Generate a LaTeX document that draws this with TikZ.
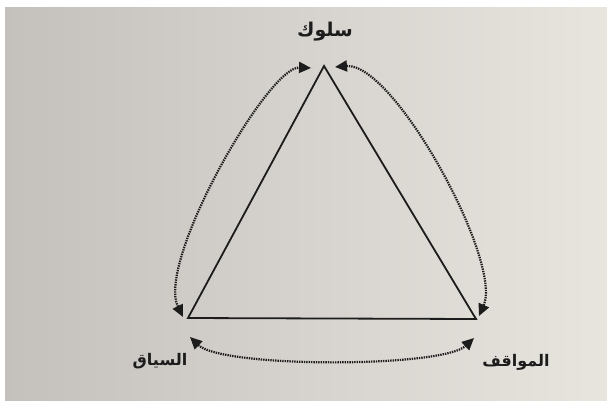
\documentclass[tikz,border=0pt]{standalone}
\usepackage{fontspec}
\usetikzlibrary{arrows.meta}
\newfontfamily\arabicfont[Script=Arabic]{DejaVu Sans}
\TeXXeTstate=1
\definecolor{paperL}{RGB}{196,193,189}
\definecolor{paperR}{RGB}{232,229,223}
\definecolor{ink}{RGB}{28,28,28}
\tikzset{
  tri/.style={draw=ink, line width=1.8pt, line join=miter},
  dotarrow/.style={draw=ink, line width=2.2pt, dash pattern=on 1.4pt off 1pt, {Triangle[length=12pt,width=11pt]}-{Triangle[length=12pt,width=11pt]}},
  lbl/.style={text=ink, font=\arabicfont\bfseries\fontsize{16}{19}\selectfont, inner sep=0pt},
  toplbl/.style={lbl, font=\arabicfont\bfseries\fontsize{19}{22}\selectfont}
}
\begin{document}
\begin{tikzpicture}[x=1pt,y=-1pt]
  \useasboundingbox (0,0) rectangle (607,400);
  \fill[white] (0,0) rectangle (607,400); \shade[left color=paperL, right color=paperR] (5,7) rectangle (607,400);
  \coordinate (suluk) at (324,66); \coordinate (siyaq) at (188,318); \coordinate (mawaqif) at (476,319);
  \draw[tri] (suluk) -- (siyaq) -- (mawaqif) -- cycle;
  % ends of the dotted loops
  \coordinate (sL) at (311,68); \coordinate (sR) at (335,67);
  \coordinate (qT) at (183,317); \coordinate (qB) at (190,337);
  \coordinate (mT) at (479,316); \coordinate (mB) at (474,338);
  \draw[dotarrow] (qT) .. controls (156,262) and (268,66) .. (sL);
  \draw[dotarrow] (sR) .. controls (394,62) and (503,262) .. (mT);
  \draw[dotarrow] (qB) .. controls (222,368) and (442,368) .. (mB);
  \node[toplbl] (tSuluk) at (325,32) {\beginR سلوك\endR}; \node[lbl] (tSiyaq) at (160,361) {\beginR السياق\endR}; \node[lbl] (tMawaqif) at (516,362) {\beginR المواقف\endR};
\end{tikzpicture}
\end{document}
